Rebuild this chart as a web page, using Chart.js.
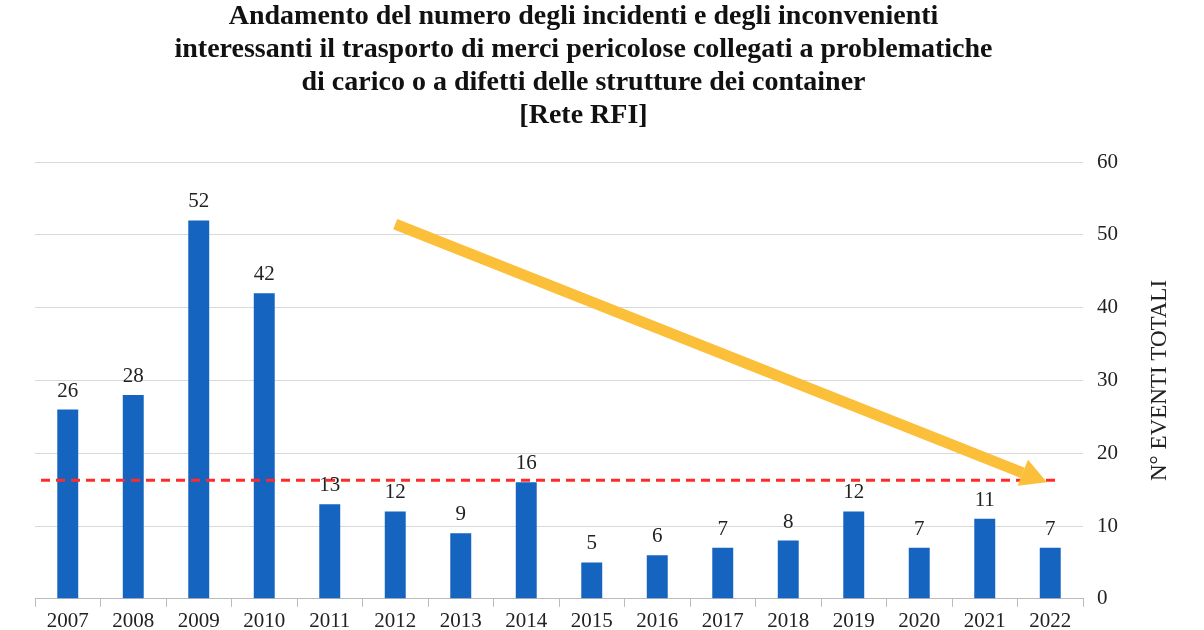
<!DOCTYPE html>
<html>
<head>
<meta charset="utf-8">
<script src="https://cdn.jsdelivr.net/npm/chart.js@4/dist/chart.umd.min.js"></script>
<style>
  html, body { margin: 0; padding: 0; background: #fff; overflow: hidden; }
  #wrap { width: 1204px; height: 636px; }
</style>
</head>
<body>
<div id="wrap"><canvas id="chart"></canvas></div>
<script>
const years = ['2007','2008','2009','2010','2011','2012','2013','2014','2015','2016','2017','2018','2019','2020','2021','2022'];
const events = [26, 28, 52, 42, 13, 12, 9, 16, 5, 6, 7, 8, 12, 7, 11, 7];
const averageLevel = 16.3;
const trendStart = [5, 51.5];
const trendEnd = [14.95, 16];
const titleLines = [
  'Andamento del numero degli incidenti e degli inconvenienti',
  'interessanti il trasporto di merci pericolose collegati a problematiche',
  'di carico o a difetti delle strutture dei container',
  '[Rete RFI]'
];
const yAxisTitle = 'N° EVENTI TOTALI';

const SERIF = '"Liberation Serif", "DejaVu Serif", serif';

// Value labels, dashed mean line, trend arrow and the right axis title
const overlay = {
  id: 'overlay',
  afterDatasetsDraw(chart) {
    const { ctx, chartArea, scales: { x, y } } = chart;
    ctx.save();

    // dashed red reference line
    const yl = y.getPixelForValue(averageLevel);
    ctx.strokeStyle = '#ff2a2a';
    ctx.lineWidth = 3;
    ctx.setLineDash([9, 6]);
    ctx.beginPath();
    ctx.moveTo(chartArea.left + 6, yl);
    ctx.lineTo(chartArea.right - 28, yl);
    ctx.stroke();
    ctx.setLineDash([]);

    // trend arrow
    const x1 = x.getPixelForValue(trendStart[0]), y1 = y.getPixelForValue(trendStart[1]);
    const x2 = x.getPixelForValue(trendEnd[0]), y2 = y.getPixelForValue(trendEnd[1]);
    const ang = Math.atan2(y2 - y1, x2 - x1);
    const head = 26;
    const bx = x2 - head * Math.cos(ang), by = y2 - head * Math.sin(ang);
    ctx.strokeStyle = '#fbbf3a';
    ctx.fillStyle = '#fbbf3a';
    ctx.lineWidth = 11;
    ctx.beginPath();
    ctx.moveTo(x1, y1);
    ctx.lineTo(bx, by);
    ctx.stroke();
    ctx.beginPath();
    ctx.moveTo(x2, y2);
    ctx.lineTo(bx + 14 * Math.sin(ang), by - 14 * Math.cos(ang));
    ctx.lineTo(bx - 14 * Math.sin(ang), by + 14 * Math.cos(ang));
    ctx.closePath();
    ctx.fill();

    // value labels
    ctx.fillStyle = '#222';
    ctx.font = '21px ' + SERIF;
    ctx.textAlign = 'center';
    ctx.textBaseline = 'bottom';
    chart.getDatasetMeta(0).data.forEach((bar, i) => {
      ctx.fillText(events[i], bar.x, bar.y - 8);
    });

    // rotated axis title, reading bottom to top
    ctx.translate(chart.width - 44, (chartArea.top + chartArea.bottom) / 2);
    ctx.rotate(-Math.PI / 2);
    ctx.font = '23px ' + SERIF;
    ctx.textBaseline = 'middle';
    ctx.fillText(yAxisTitle, 0, 0);
    ctx.restore();
  }
};

new Chart(document.getElementById('chart'), {
  type: 'bar',
  data: {
    labels: years,
    datasets: [{
      data: events,
      backgroundColor: '#1565c0',
      categoryPercentage: 1,
      barPercentage: 0.32
    }]
  },
  options: {
    responsive: true,
    maintainAspectRatio: false,
    animation: false,
    layout: { padding: { left: 35, right: 72, top: 0, bottom: 0 } },
    plugins: {
      legend: { display: false },
      tooltip: { enabled: false },
      title: {
        display: true,
        text: titleLines,
        color: '#111',
        font: { family: SERIF, size: 28, weight: 'bold', lineHeight: 1.18 },
        padding: { top: 0, bottom: 30 }
      }
    },
    scales: {
      x: {
        offset: true,
        grid: { offset: true, drawOnChartArea: false, color: '#bbb', tickLength: 8 },
        border: { color: '#bbb' },
        ticks: { color: '#222', font: { family: SERIF, size: 21 }, maxRotation: 0, padding: 2 }
      },
      y: {
        position: 'right',
        min: 0,
        max: 60,
        ticks: { stepSize: 10, color: '#222', font: { family: SERIF, size: 21 }, padding: 14 },
        grid: { color: '#d9d9d9', drawTicks: false },
        border: { display: false }
      }
    }
  },
  plugins: [overlay]
});
</script>
</body>
</html>
